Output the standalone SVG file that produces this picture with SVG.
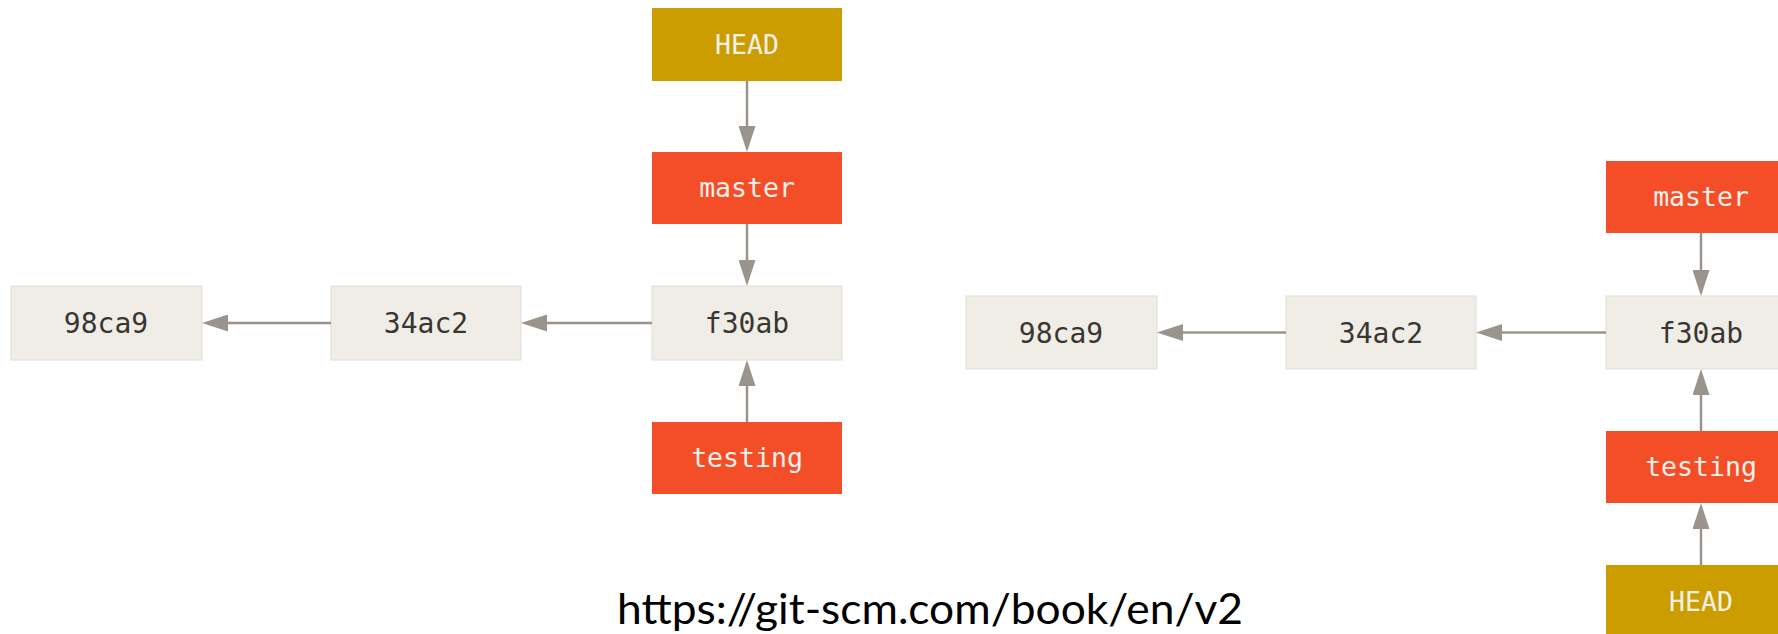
<svg xmlns="http://www.w3.org/2000/svg" width="1778" height="634" viewBox="0 0 1778 634">
  <style>
    .commit rect { fill: #efede6; stroke: #dfddd6; stroke-width: 1; }
    .commit text { fill: #3a3631; font-size: 28px; }
    .branch rect { fill: #f44e29; }
    .head rect { fill: #cc9d00; }
    .branch text, .head text { fill: #f3f1ea; font-size: 26.5px; }
    text.lbl { font-family: "DejaVu Sans Mono", "Liberation Mono", monospace; text-anchor: middle; }
    .edges path { fill: none; stroke: #9a948d; stroke-width: 2.5; marker-end: url(#arrow); }
    .caption { font-family: Lato, "Open Sans", "Liberation Sans", sans-serif; font-size: 42px; fill: #000; }
  </style>
  <defs>
    <marker id="arrow" markerUnits="userSpaceOnUse" markerWidth="26" markerHeight="17" refX="0" refY="8.5" orient="auto">
      <path d="M0,0 L26,8.5 L0,17 Z" fill="#9a948d"/>
    </marker>
  </defs>
  <rect width="1778" height="634" fill="#ffffff"/>

  <!-- left state: HEAD on master -->
  <g id="l-head" class="head"><rect x="652" y="8" width="190" height="73"/><text class="lbl" x="747" y="54">HEAD</text></g>
  <g id="l-master" class="branch"><rect x="652" y="152" width="190" height="72"/><text class="lbl" x="747" y="197">master</text></g>
  <g id="l-f30ab" class="commit"><rect x="652" y="286" width="190" height="74"/><text class="lbl" x="747" y="333">f30ab</text></g>
  <g id="l-34ac2" class="commit"><rect x="331" y="286" width="190" height="74"/><text class="lbl" x="426" y="333">34ac2</text></g>
  <g id="l-98ca9" class="commit"><rect x="11" y="286" width="191" height="74"/><text class="lbl" x="106" y="333">98ca9</text></g>
  <g id="l-testing" class="branch"><rect x="652" y="422" width="190" height="72"/><text class="lbl" x="747" y="467">testing</text></g>

  <!-- right state: HEAD on testing -->
  <g id="r-master" class="branch"><rect x="1606" y="161" width="190" height="72"/><text class="lbl" x="1701" y="206">master</text></g>
  <g id="r-f30ab" class="commit"><rect x="1606" y="296" width="190" height="73"/><text class="lbl" x="1701" y="343">f30ab</text></g>
  <g id="r-34ac2" class="commit"><rect x="1286" y="296" width="190" height="73"/><text class="lbl" x="1381" y="343">34ac2</text></g>
  <g id="r-98ca9" class="commit"><rect x="966" y="296" width="191" height="73"/><text class="lbl" x="1061" y="343">98ca9</text></g>
  <g id="r-testing" class="branch"><rect x="1606" y="431" width="190" height="72"/><text class="lbl" x="1701" y="476">testing</text></g>
  <g id="r-head" class="head"><rect x="1606" y="565" width="190" height="73"/><text class="lbl" x="1701" y="611">HEAD</text></g>

  <g id="connectors" class="edges">
    <path d="M747,81 V126"/>
    <path d="M747,224 V260"/>
    <path d="M747,422 V386"/>
    <path d="M652,323 H547"/>
    <path d="M331,323 H228"/>
    <path d="M1701,233 V270"/>
    <path d="M1701,431 V395"/>
    <path d="M1701,565 V529"/>
    <path d="M1606,332.5 H1502"/>
    <path d="M1286,332.5 H1183"/>
  </g>

  <text class="caption" x="617" y="624" textLength="626" lengthAdjust="spacingAndGlyphs">https://git-scm.com/book/en/v2</text>
</svg>
